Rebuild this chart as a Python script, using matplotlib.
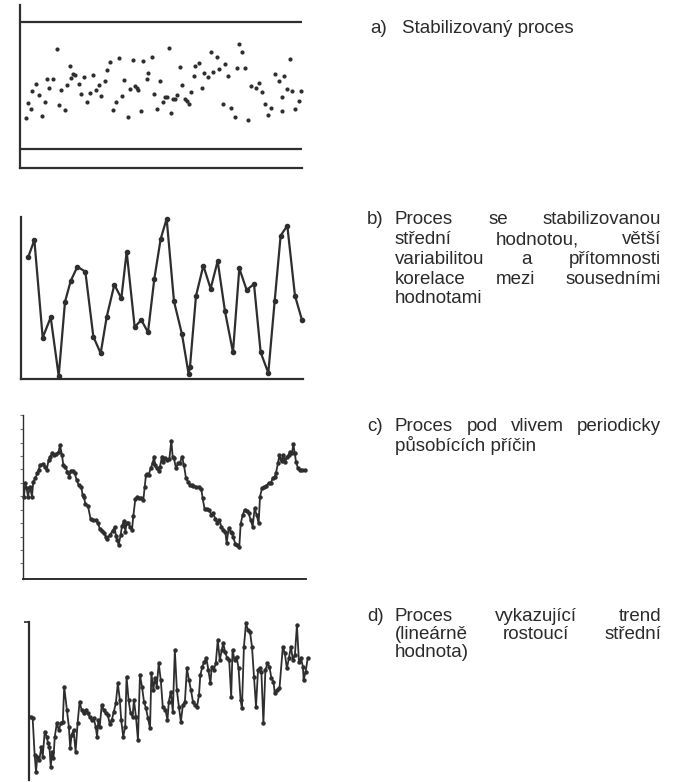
import matplotlib
matplotlib.use("Agg")
import matplotlib.pyplot as plt

W, H = 673, 782
INK = "#2e2e2e"
TXT = "#2b2b2b"

# a) stabilized process (scatter with control limits)
a_x = [77, 84, 92, 97, 108, 116, 127, 135, 140, 148, 158, 170, 176, 184, 194, 201, 210, 212, 220, 226,
       236, 244, 253, 262, 270, 278, 287, 296, 304, 314, 322, 330, 340, 348, 356, 366, 373, 384, 391, 398,
       404, 410, 415, 423, 430, 440, 445, 456, 463, 470, 480, 488, 494, 500, 505, 513, 518, 523, 530, 538,
       545, 553, 560, 566, 571, 580, 585, 595, 605, 612, 622, 631, 639, 650, 657, 667, 673, 684, 692, 703,
       710, 716, 725, 735, 743, 752, 766, 776, 786, 795, 802, 811, 825, 835, 844, 846, 852, 860, 870, 875,
       885, 895, 903]
a_y = [150, 195, 177, 230, 253, 220, 157, 197, 267, 241, 267, 357, 189, 235, 174, 250, 307, 271, 283, 279,
       253, 223, 274, 199, 225, 280, 235, 250, 217, 261, 295, 319, 175, 197, 332, 217, 264, 154, 237, 326,
       245, 240, 234, 171, 322, 269, 285, 335, 221, 178, 261, 199, 213, 213, 362, 164, 208, 208, 218, 303,
       249, 207, 200, 193, 227, 277, 307, 317, 240, 287, 273, 350, 289, 335, 298, 192, 312, 278, 180, 154,
       300, 373, 350, 301, 145, 247, 240, 256, 229, 193, 159, 180, 283, 262, 170, 212, 278, 237, 327, 232,
       177, 202, 230]
a_limits = [57, 440]

# b) larger variability, correlated neighbours
b_x = [85, 103, 128, 152, 176, 195, 212, 232, 256, 280, 302, 320, 343, 364, 380, 404, 424, 444, 463, 482,
       500, 522, 546, 566, 570, 588, 610, 632, 653, 675, 699, 718, 740, 762, 782, 805, 824, 842, 862, 885,
       906]
b_y = [368, 418, 125, 186, 10, 233, 295, 338, 323, 128, 78, 187, 284, 243, 383, 157, 178, 141, 302, 421,
       482, 234, 135, 15, 38, 250, 341, 272, 355, 204, 81, 333, 268, 286, 81, 19, 234, 431, 461, 251,
       178]

# c) periodic causes
c_x = [72, 76, 80, 84, 90, 96, 100, 106, 112, 116, 120, 128, 134, 140, 146, 150, 156, 162, 168, 176,
       180, 186, 190, 196, 202, 208, 212, 218, 224, 230, 236, 244, 248, 252, 256, 264, 272, 280, 288, 294,
       300, 306, 312, 318, 322, 330, 338, 344, 348, 352, 356, 362, 366, 372, 376, 380, 384, 390, 396, 400,
       406, 412, 418, 424, 430, 434, 438, 442, 446, 452, 458, 462, 466, 470, 476, 480, 486, 490, 496, 502,
       508, 514, 518, 522, 528, 534, 540, 546, 552, 558, 564, 570, 576, 580, 588, 596, 604, 608, 614, 620,
       628, 634, 640, 646, 652, 658, 664, 670, 676, 680, 686, 692, 696, 700, 706, 712, 718, 722, 728, 734,
       740, 746, 752, 758, 764, 770, 776, 780, 786, 792, 798, 806, 812, 818, 824, 828, 834, 838, 842, 846,
       850, 856, 860, 866, 870, 876, 880, 884, 888, 894, 900, 906, 914]
c_y = [248, 288, 273, 248, 278, 248, 293, 303, 318, 328, 343, 346, 338, 328, 358, 366, 378, 373, 376, 383,
       403, 373, 343, 338, 323, 306, 326, 326, 320, 298, 283, 276, 253, 248, 226, 220, 180, 178, 178, 168,
       150, 146, 140, 126, 120, 133, 146, 156, 130, 118, 103, 133, 160, 176, 143, 168, 170, 158, 148, 190,
       240, 246, 243, 244, 238, 276, 313, 316, 313, 333, 348, 368, 342, 333, 326, 338, 368, 353, 363, 358,
       360, 416, 368, 363, 333, 348, 350, 368, 343, 303, 293, 283, 283, 280, 278, 276, 270, 243, 210, 210,
       208, 193, 198, 181, 168, 178, 158, 148, 143, 108, 153, 143, 138, 126, 106, 103, 98, 166, 193, 208,
       206, 198, 178, 158, 213, 193, 168, 248, 273, 276, 280, 288, 288, 303, 306, 320, 348, 373, 360, 356,
       373, 353, 366, 373, 383, 378, 406, 380, 353, 333, 328, 328, 328]
c_ticks = [48, 88, 128, 168, 208, 250, 290, 330, 370, 410, 450, 493]

# d) linear trend
d_x = [92, 98, 104, 108, 112, 118, 124, 128, 134, 140, 144, 148, 152, 156, 160, 164, 170, 176, 182, 188,
       192, 200, 206, 210, 214, 220, 226, 232, 238, 244, 250, 256, 262, 268, 274, 280, 286, 290, 294, 298,
       304, 310, 316, 322, 328, 334, 340, 346, 352, 358, 362, 368, 374, 378, 384, 390, 396, 400, 406, 412,
       418, 424, 430, 436, 442, 448, 452, 458, 462, 468, 474, 480, 486, 494, 500, 504, 510, 516, 522, 528,
       534, 540, 546, 552, 558, 564, 570, 576, 582, 588, 594, 598, 604, 610, 616, 622, 628, 632, 638, 644,
       650, 656, 662, 666, 672, 678, 684, 690, 694, 700, 706, 712, 718, 722, 728, 734, 740, 746, 752, 758,
       764, 770, 776, 780, 786, 792, 798, 804, 810, 816, 820, 826, 834, 844, 850, 856, 862, 868, 874, 880,
       886, 892, 898, 904, 906, 912, 918]
d_y = [190, 185, 75, 25, 70, 60, 100, 70, 145, 130, 110, 100, 40, 85, 65, 130, 170, 150, 170, 175,
       280, 210, 160, 95, 135, 150, 85, 170, 235, 210, 200, 210, 200, 190, 180, 185, 160, 130, 180, 160,
       225, 210, 200, 195, 168, 180, 205, 230, 290, 240, 180, 130, 160, 310, 240, 200, 190, 240, 190, 120,
       315, 280, 235, 215, 185, 155, 320, 270, 305, 280, 350, 300, 220, 210, 180, 235, 265, 205, 390, 270,
       220, 175, 225, 235, 335, 300, 270, 235, 225, 220, 255, 315, 340, 355, 365, 330, 290, 340, 330, 350,
       420, 360, 390, 410, 385, 365, 360, 250, 390, 360, 370, 335, 240, 215, 400, 470, 450, 445, 400, 310,
       220, 330, 335, 325, 170, 330, 350, 340, 305, 295, 260, 270, 275, 400, 380, 335, 365, 400, 360, 375,
       465, 355, 365, 340, 300, 325, 365]

texts_a = [["Stabilizovaný proces"]]
texts_b = [["Proces", "se", "stabilizovanou"],
           ["střední", "hodnotou,", "větší"],
           ["variabilitou", "a", "přítomnosti"],
           ["korelace", "mezi", "sousedními"],
           ["hodnotami"]]
texts_c = [["Proces", "pod", "vlivem", "periodicky"],
           ["působících příčin"]]
texts_d = [["Proces", "vykazující", "trend"],
           ["(lineárně", "rostoucí", "střední"],
           ["hodnota)"]]

FONT = "Liberation Sans"
FSIZE = 13.5


def px_axes(fig, left, top, right, bottom):
    return fig.add_axes([left / W, 1 - bottom / H, (right - left) / W, (bottom - top) / H])


def style(ax, xlim, ylim, bottom=True):
    ax.set_xlim(*xlim)
    ax.set_ylim(*ylim)
    for s in ["top", "right"]:
        ax.spines[s].set_visible(False)
    ax.spines["bottom"].set_visible(bottom)
    for s in ["left", "bottom"]:
        ax.spines[s].set_color(INK)
        ax.spines[s].set_linewidth(1.6)
    ax.set_xticks([])
    ax.set_yticks([])
    ax.patch.set_alpha(0)


def label(fig, letter, lines, y0, dy, x_letter=367, x0=395, x1=661):
    rend = fig.canvas.get_renderer()
    kw = dict(fontsize=FSIZE, color=TXT, family=FONT, va="baseline", ha="left")
    fig.text(x_letter / W, 1 - y0 / H, letter, **kw)
    for i, words in enumerate(lines):
        y = 1 - (y0 + i * dy) / H
        if len(words) == 1:
            fig.text(x0 / W, y, words[0], **kw)
            continue
        objs = [fig.text(0, y, w, **kw) for w in words]
        widths = [t.get_window_extent(rend).width for t in objs]
        gap = (x1 - x0 - sum(widths)) / (len(words) - 1)
        x = x0
        for t, w in zip(objs, widths):
            t.set_x(x / W)
            x += w + gap


fig = plt.figure(figsize=(W / 100, H / 100), dpi=100)

# panel a
ax = px_axes(fig, 20, 5, 302, 168)
style(ax, (60, 905), (0, 490))
ax.scatter(a_x, a_y, s=9, color=INK, linewidths=0, clip_on=False)
for lim in a_limits:
    ax.axhline(lim, color=INK, lw=1.6)

# panel b
ax = px_axes(fig, 20.7, 216.7, 303.3, 379.3)
style(ax, (62, 910), (0, 488))
ax.plot(b_x, b_y, "-o", color=INK, lw=1.6, ms=3.0, clip_on=False)

# panel c
ax = px_axes(fig, 23.3, 415, 306, 579.3)
style(ax, (70, 918), (0, 493))
ax.plot(c_x, c_y, "-o", color=INK, lw=1.3, ms=2.2, clip_on=False)
ax.set_yticks(c_ticks)
ax.set_yticklabels([])
ax.tick_params(axis="y", length=2.5, width=0.8, color="#777777")
ax.spines["left"].set_linewidth(1.0)
ax.spines["bottom"].set_linewidth(1.4)

# panel d
ax = px_axes(fig, 29.3, 621.7, 310, 780)
style(ax, (88, 925), (0, 475), bottom=False)
ax.plot(d_x, d_y, "-o", color=INK, lw=1.3, ms=2.2, clip_on=False)
ax.set_yticks([475])
ax.set_yticklabels([])
ax.tick_params(axis="y", length=3.5, width=1.2, color=INK)

label(fig, "a)", texts_a, 33.3, 20, x_letter=370, x0=402)
label(fig, "b)", texts_b, 224.5, 19.7)
label(fig, "c)", texts_c, 430.7, 20)
label(fig, "d)", texts_d, 620.7, 18)

fig.savefig("out.png", dpi=100, facecolor="white")
